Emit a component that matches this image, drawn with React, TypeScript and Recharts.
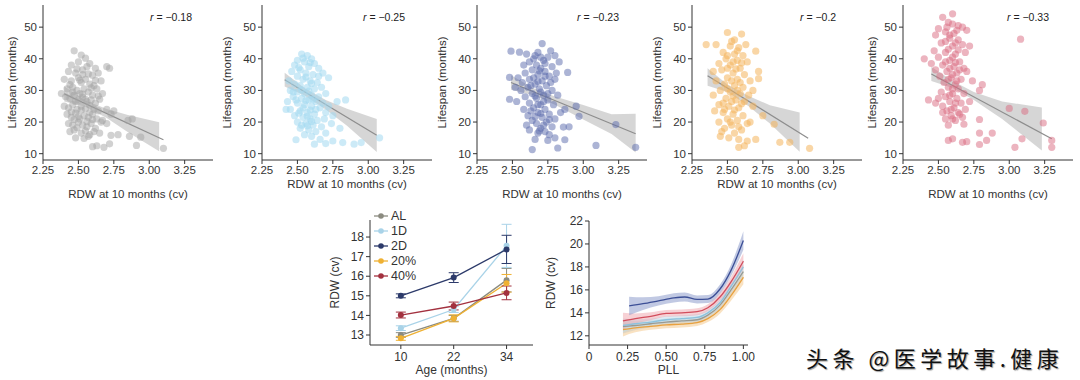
import React from "react";
import {
  ComposedChart,
  LineChart,
  Scatter,
  Line,
  Area,
  XAxis,
  YAxis,
  ErrorBar,
} from "recharts";

const FONT = "'Liberation Sans', Arial, Helvetica, sans-serif";
const INK = "#333";

// ---- top row: RDW at 10 months vs lifespan ----
const rdwTicks = [2.25, 2.5, 2.75, 3.0, 3.25];
const lifeTicks = [10, 20, 30, 40, 50];

const ptsAL = [
  [2.47, 42.5], [2.52, 41.2], [2.55, 40.2], [2.5, 39.0], [2.45, 38.0], [2.58, 38.5], [2.62, 37.0], [2.7, 37.5], [2.72, 37.0],
  [2.43, 36.0], [2.48, 35.5], [2.53, 36.5], [2.57, 35.2], [2.6, 34.8], [2.64, 35.5], [2.66, 33.0],
  [2.4, 33.5], [2.45, 33.0], [2.5, 34.0], [2.52, 32.5], [2.55, 33.5], [2.58, 32.0], [2.61, 31.5], [2.63, 30.5],
  [2.38, 29.0], [2.42, 30.5], [2.46, 31.0], [2.49, 30.0], [2.51, 29.0], [2.54, 30.5], [2.57, 29.5], [2.6, 28.5], [2.67, 29.0],
  [2.41, 28.0], [2.44, 27.5], [2.47, 28.5], [2.5, 27.0], [2.53, 27.8], [2.56, 26.5], [2.59, 27.0], [2.62, 26.0], [2.65, 27.2],
  [2.4, 25.0], [2.43, 24.5], [2.46, 25.5], [2.49, 24.0], [2.52, 25.0], [2.55, 24.2], [2.58, 25.3], [2.61, 24.0], [2.64, 23.5], [2.7, 24.0], [2.75, 23.5], [2.73, 22.5],
  [2.42, 22.5], [2.45, 21.5], [2.48, 22.8], [2.51, 21.0], [2.54, 22.0], [2.57, 21.5], [2.6, 22.5], [2.63, 21.0], [2.67, 20.5],
  [2.43, 19.5], [2.46, 19.0], [2.5, 20.0], [2.53, 19.0], [2.56, 18.5], [2.59, 19.5], [2.62, 18.0],
  [2.44, 17.0], [2.47, 17.5], [2.52, 16.5], [2.55, 17.2], [2.58, 16.0], [2.61, 17.0], [2.65, 16.5],
  [2.48, 15.0], [2.54, 14.8], [2.57, 15.5],
  [2.6, 12.2], [2.63, 12.5], [2.68, 12.0], [2.72, 13.1], [2.73, 15.8], [2.78, 16.0], [2.85, 20.5], [2.88, 21.0],
  [2.86, 15.5], [2.91, 12.6], [2.94, 15.2], [3.1, 11.7], [2.66, 20.0], [2.7, 19.5],
  [2.49, 36.8], [2.56, 37.5], [2.51, 33.2], [2.46, 29.5], [2.53, 28.8], [2.48, 26.5], [2.55, 27.2], [2.45, 23.2], [2.52, 23.8],
  [2.58, 23.0], [2.5, 21.8], [2.56, 20.2], [2.49, 18.2], [2.6, 20.8], [2.53, 35.0], [2.59, 30.8], [2.44, 31.8], [2.62, 33.2],
  [2.47, 20.8], [2.64, 28.2],
];

const pts1D = [
  [2.53, 41.5], [2.57, 41.0], [2.6, 40.0], [2.5, 39.5], [2.55, 39.0], [2.62, 38.5], [2.48, 38.0], [2.58, 37.5], [2.65, 37.0],
  [2.52, 36.5], [2.46, 36.0], [2.56, 35.5], [2.61, 35.0], [2.68, 35.5], [2.72, 34.0], [2.5, 34.5], [2.54, 33.5], [2.59, 33.0],
  [2.64, 32.5], [2.44, 33.0], [2.48, 32.0], [2.52, 31.5], [2.57, 31.0], [2.62, 30.5], [2.67, 31.0], [2.45, 30.0], [2.5, 29.5],
  [2.55, 29.0], [2.6, 28.5], [2.65, 28.0], [2.7, 29.0], [2.47, 28.0], [2.53, 27.5], [2.58, 27.0], [2.63, 26.5], [2.68, 26.0],
  [2.43, 26.5], [2.5, 26.0], [2.55, 25.5], [2.6, 25.0], [2.66, 24.5], [2.72, 25.0], [2.78, 26.5], [2.84, 27.0], [2.45, 24.0],
  [2.52, 23.5], [2.57, 23.0], [2.62, 22.5], [2.7, 23.0], [2.75, 22.0], [2.48, 22.0], [2.54, 21.5], [2.59, 21.0], [2.64, 20.5],
  [2.69, 21.0], [2.5, 20.0], [2.56, 19.5], [2.61, 19.0], [2.67, 18.5], [2.52, 18.0], [2.58, 17.5], [2.63, 17.0], [2.7, 16.5],
  [2.55, 16.0], [2.6, 15.5], [2.49, 14.4], [2.66, 14.5], [2.62, 13.0], [2.7, 13.2], [2.75, 14.0], [2.82, 13.5], [2.9, 13.0],
  [2.95, 13.5], [3.08, 15.0], [2.8, 18.0], [2.74, 19.5], [2.42, 24.0],
  [2.54, 40.2], [2.59, 38.8], [2.51, 37.2], [2.56, 34.2], [2.6, 32.2], [2.53, 30.2], [2.58, 29.8], [2.49, 27.0], [2.56, 26.8],
  [2.61, 27.2], [2.54, 24.5], [2.59, 23.8], [2.51, 22.8], [2.57, 21.8], [2.53, 19.0], [2.6, 20.2], [2.57, 18.8], [2.63, 24.0],
  [2.47, 29.5], [2.65, 34.5],
];

const pts2D = [
  [2.71, 44.8], [2.49, 42.4], [2.55, 42.1], [2.6, 41.5], [2.68, 42.0], [2.77, 42.5], [2.8, 41.0], [2.65, 40.0], [2.72, 39.5],
  [2.75, 40.5], [2.62, 39.0], [2.83, 39.0], [2.89, 35.7], [2.58, 38.0], [2.67, 38.0], [2.7, 37.0], [2.78, 37.5], [2.64, 36.5],
  [2.73, 36.0], [2.81, 35.5], [2.59, 35.5], [2.68, 35.0], [2.76, 34.5], [2.54, 34.0], [2.48, 34.1], [2.62, 33.5], [2.71, 33.0],
  [2.8, 33.5], [2.57, 32.5], [2.66, 32.0], [2.74, 31.5], [2.52, 31.0], [2.61, 31.0], [2.69, 30.5], [2.78, 30.0], [2.56, 30.0],
  [2.64, 29.0], [2.72, 28.5], [2.82, 28.5], [2.59, 28.0], [2.67, 27.5], [2.48, 27.2], [2.75, 27.0], [2.53, 26.5], [2.62, 26.0],
  [2.7, 25.5], [2.79, 25.5], [2.65, 24.5], [2.73, 24.0], [2.58, 24.0], [2.87, 24.0], [2.68, 23.0], [2.76, 22.5], [2.61, 22.0],
  [2.71, 21.5], [2.8, 21.0], [2.64, 20.5], [2.74, 20.0], [2.67, 19.5], [2.78, 18.5], [2.7, 18.0], [2.73, 17.0], [2.62, 17.5],
  [2.76, 16.0], [2.68, 16.5], [2.66, 14.5], [2.75, 14.2], [2.8, 15.0], [2.87, 14.4], [2.64, 11.3], [2.82, 11.8], [2.86, 18.4],
  [2.9, 18.5], [2.95, 25.0], [2.97, 21.8], [3.09, 12.6], [3.23, 19.2], [3.37, 12.0], [2.84, 23.0], [2.6, 19.0],
  [2.66, 41.0], [2.7, 40.5], [2.73, 38.5], [2.69, 36.2], [2.65, 34.0], [2.73, 34.5], [2.68, 32.8], [2.77, 32.5], [2.63, 31.5],
  [2.7, 29.5], [2.66, 28.2], [2.75, 29.0], [2.72, 26.5], [2.68, 25.5], [2.63, 23.5], [2.7, 22.7], [2.66, 21.7], [2.72, 19.0],
  [2.76, 20.8], [2.69, 17.2],
];

const pts20 = [
  [2.5, 48.3], [2.6, 47.8], [2.55, 46.0], [2.35, 44.5], [2.42, 44.5], [2.52, 44.0], [2.58, 43.5], [2.63, 44.5], [2.7, 42.4],
  [2.47, 42.0], [2.55, 41.5], [2.61, 41.0], [2.49, 40.0], [2.57, 39.5], [2.64, 39.0], [2.44, 38.5], [2.52, 38.0], [2.59, 37.0],
  [2.72, 36.0], [2.46, 36.5], [2.54, 35.5], [2.62, 35.0], [2.5, 34.0], [2.57, 33.5], [2.66, 33.0], [2.72, 33.7], [2.42, 33.0],
  [2.48, 32.0], [2.55, 31.5], [2.61, 31.0], [2.45, 30.0], [2.52, 29.5], [2.59, 29.0], [2.65, 28.5], [2.4, 28.5], [2.49, 27.5],
  [2.56, 27.0], [2.62, 26.5], [2.44, 25.5], [2.51, 25.0], [2.58, 24.5], [2.68, 25.0], [2.41, 23.5], [2.47, 23.0], [2.54, 22.5],
  [2.61, 22.0], [2.5, 21.0], [2.57, 20.5], [2.44, 20.0], [2.64, 19.5], [2.53, 19.0], [2.48, 18.0], [2.6, 17.5], [2.55, 16.5],
  [2.45, 15.5], [2.51, 15.0], [2.58, 14.5], [2.64, 14.0], [2.7, 14.5], [2.58, 12.0], [2.62, 12.5], [2.66, 20.0], [2.83, 19.3],
  [2.87, 13.6], [2.94, 13.6], [3.08, 11.7], [2.4, 36.0], [2.68, 30.0], [2.75, 22.0],
  [2.53, 45.5], [2.57, 42.5], [2.5, 41.0], [2.54, 39.0], [2.6, 38.7], [2.5, 37.0], [2.56, 36.8], [2.53, 33.0], [2.59, 32.5],
  [2.5, 30.5], [2.57, 30.0], [2.54, 28.2], [2.47, 26.0], [2.53, 26.5], [2.6, 25.8], [2.48, 24.0], [2.55, 23.8], [2.52, 20.0],
  [2.58, 18.5], [2.46, 17.0],
];

const pts40 = [
  [2.6, 54.2], [2.53, 53.1], [2.57, 51.5], [2.64, 50.5], [2.67, 50.0], [2.5, 49.5], [2.55, 48.5], [2.61, 48.0], [2.7, 49.0],
  [2.48, 47.5], [2.58, 46.5], [2.64, 46.0], [2.52, 45.0], [2.6, 44.0], [2.67, 44.5], [2.72, 44.0], [2.47, 42.5], [2.55, 42.0],
  [2.62, 41.5], [2.69, 42.0], [2.4, 40.0], [2.5, 40.5], [2.58, 39.5], [2.65, 39.0], [2.45, 38.5], [2.53, 38.0], [2.61, 37.5],
  [2.68, 37.0], [2.48, 36.5], [2.56, 36.0], [2.63, 35.5], [2.7, 36.0], [2.51, 34.5], [2.59, 34.0], [2.66, 33.5], [2.74, 33.0],
  [2.54, 32.5], [2.62, 32.0], [2.81, 31.8], [2.57, 31.0], [2.64, 30.5], [2.79, 30.0], [2.52, 29.5], [2.6, 29.0], [2.68, 29.0],
  [2.55, 28.0], [2.63, 27.5], [2.43, 27.0], [2.48, 26.0], [2.58, 26.5], [2.66, 26.0], [2.72, 26.5], [2.53, 25.0], [2.61, 24.5],
  [2.69, 24.0], [2.56, 23.5], [2.64, 23.0], [2.59, 22.0], [2.67, 21.5], [2.55, 21.0], [2.62, 20.5], [2.79, 20.8], [2.57, 19.0],
  [2.68, 19.3], [2.6, 14.7], [2.57, 14.2], [2.67, 13.6], [2.7, 13.8], [2.79, 16.5], [2.79, 12.9], [2.84, 14.2], [2.88, 16.5],
  [3.0, 24.3], [3.11, 23.4], [3.08, 46.2], [3.24, 19.7], [3.3, 14.2], [3.3, 12.0], [3.04, 12.0], [3.09, 14.7],
  [2.6, 51.0], [2.56, 50.0], [2.63, 49.0], [2.58, 47.5], [2.55, 45.5], [2.62, 45.0], [2.57, 43.0], [2.64, 42.8], [2.6, 40.5],
  [2.55, 39.0], [2.62, 38.8], [2.58, 37.0], [2.65, 36.5], [2.6, 35.0], [2.57, 33.5], [2.63, 33.0], [2.6, 30.5], [2.58, 28.5],
  [2.62, 26.0], [2.59, 24.0], [2.65, 22.5], [2.6, 21.0], [2.53, 23.0], [2.5, 27.5],
];

// regression fit lines (x, y) and 95% bands (x, low, high)
const fitAL = [[2.4, 28.9], [3.1, 14.4]];
const bandAL = [[2.4, 26.5, 31.3], [2.55, 24.8, 26.8], [2.7, 21.3, 24.1], [2.85, 16.8, 22.2], [3.07, 10.8, 19.9]];
const fit1D = [[2.41, 33.4], [3.06, 15.8]];
const band1D = [[2.41, 31.2, 35.6], [2.55, 28.4, 30.8], [2.7, 24.0, 27.0], [2.85, 18.8, 24.2], [3.06, 10.5, 21.0]];
const fit2D = [[2.49, 32.5], [3.37, 16.3]];
const band2D = [[2.49, 30.2, 34.8], [2.65, 28.5, 30.7], [2.8, 25.5, 28.1], [3.0, 20.8, 25.4], [3.2, 16.2, 22.5], [3.37, 10.4, 22.6]];
const fit20 = [[2.36, 34.6], [3.07, 14.9]];
const band20 = [[2.36, 31.5, 37.0], [2.5, 29.5, 31.9], [2.65, 25.0, 28.2], [2.8, 19.5, 25.3], [3.01, 10.6, 23.0]];
const fit40 = [[2.45, 35.2], [3.3, 14.7]];
const band40 = [[2.45, 33.0, 37.5], [2.6, 30.8, 33.0], [2.75, 27.0, 29.5], [2.95, 21.0, 26.5], [3.23, 11.0, 24.6]];

// ---- bottom left: RDW by age ----
const ages = [10, 22, 34];
const rdwAL = [13.0, 13.85, 15.8];
const errAL = [0.12, 0.15, 0.6];
const rdw1D = [13.35, 14.3, 17.55];
const err1D = [0.12, 0.15, 1.1];
const rdw2D = [15.0, 15.93, 17.37];
const err2D = [0.1, 0.25, 0.72];
const rdw20 = [12.83, 13.85, 15.64];
const err20 = [0.1, 0.18, 0.45];
const rdw40 = [14.02, 14.48, 15.15];
const err40 = [0.15, 0.2, 0.35];

// ---- bottom right: RDW vs PLL ----
const pllX = [0.22, 0.3, 0.4, 0.5, 0.6, 0.7, 0.77, 0.85, 0.92, 1.0];
const pllX2D = [0.26, 0.35, 0.45, 0.55, 0.62, 0.7, 0.77, 0.85, 0.92, 1.0];
const pll2D = [14.6, 14.8, 15.05, 15.3, 15.38, 15.17, 15.2, 16.1, 17.7, 20.3];
const pll2DSe = [0.8, 0.55, 0.4, 0.4, 0.4, 0.35, 0.35, 0.4, 0.5, 0.8];
const pll40 = [13.3, 13.5, 13.7, 13.95, 14.0, 14.1, 14.45, 15.4, 16.7, 18.5];
const pll40Se = [0.7, 0.45, 0.35, 0.3, 0.3, 0.3, 0.3, 0.35, 0.45, 0.7];
const pll1D = [12.9, 13.05, 13.2, 13.4, 13.5, 13.6, 14.0, 14.9, 16.3, 18.0];
const pll1DSe = [0.6, 0.4, 0.3, 0.3, 0.3, 0.3, 0.3, 0.35, 0.45, 0.6];
const pllAL = [12.8, 12.9, 13.05, 13.2, 13.3, 13.4, 13.8, 14.7, 16.0, 17.6];
const pllALSe = [0.6, 0.4, 0.3, 0.3, 0.3, 0.3, 0.3, 0.35, 0.45, 0.6];
const pll20 = [12.55, 12.7, 12.82, 12.95, 13.02, 13.15, 13.5, 14.3, 15.5, 17.1];
const pll20Se = [0.6, 0.4, 0.3, 0.3, 0.3, 0.3, 0.3, 0.35, 0.45, 0.6];

const toPts = (a: number[][]) => a.map(([x, y]) => ({ x, y }));
const toBand = (a: number[][]) => a.map(([x, lo, hi]) => ({ x, band: [lo, hi] }));
const toCurve = (xs: number[], ys: number[], se: number[]) =>
  xs.map((x, i) => ({ x, y: ys[i], band: [ys[i] - se[i], ys[i] + se[i]] }));

const tickStyle = { fontSize: 11.5, fill: INK, fontFamily: FONT };
const axisLine = { stroke: INK, strokeWidth: 1 };

type PanelProps = {
  left: number;
  pts: number[][];
  fit: number[][];
  band: number[][];
  color: string;
  opacity: number;
  r: string;
  rLeft: number;
  xLabelOffset: number;
  yLabelX: number;
};

function ScatterPanel(p: PanelProps) {
  return (
    <div style={{ position: "absolute", left: p.left, top: 0, width: 220, height: 205 }}>
      <ComposedChart width={220} height={205} margin={{ top: 5, right: 7, bottom: 5, left: 0 }}>
        <XAxis
          type="number"
          dataKey="x"
          domain={[2.25, 3.45]}
          ticks={rdwTicks}
          interval={0}
          tickFormatter={(v: number) => v.toFixed(2)}
          height={40}
          tick={tickStyle}
          axisLine={axisLine}
          tickLine={axisLine}
          tickSize={4}
          label={{ value: "RDW at 10 months (cv)", position: "insideBottom", offset: p.xLabelOffset, fill: INK, fontSize: 11.5, fontFamily: FONT }}
        />
        <YAxis
          type="number"
          dataKey="y"
          domain={[8, 57]}
          ticks={lifeTicks}
          interval={0}
          width={43}
          tick={tickStyle}
          axisLine={axisLine}
          tickLine={axisLine}
          tickSize={4}
          label={{ value: "Lifespan (months)", angle: -90, position: "insideLeft", offset: p.yLabelX, fill: INK, fontSize: 11.5, fontFamily: FONT, style: { textAnchor: "middle" } }}
        />
        <Scatter
          data={toPts(p.pts)}
          dataKey="y"
          isAnimationActive={false}
          shape={(s: any) => <circle cx={s.cx} cy={s.cy} r={3.6} fill={p.color} fillOpacity={p.opacity} />}
        />
        <Area data={toBand(p.band)} dataKey="band" type="linear" stroke="none" fill="#b5b5b5" fillOpacity={0.55} isAnimationActive={false} />
        <Line data={toPts(p.fit)} dataKey="y" type="linear" stroke="#8d8d8d" strokeWidth={1.2} dot={false} isAnimationActive={false} />
      </ComposedChart>
      <div style={{ position: "absolute", left: p.rLeft, top: 11, fontSize: 10.5, fontFamily: FONT, color: "#222", whiteSpace: "nowrap" }}>
        <i>r</i> = −{p.r}
      </div>
    </div>
  );
}

const ageColors = { AL: "#8b8b80", "1D": "#a9d3e8", "2D": "#2c3a6a", "20%": "#efb133", "40%": "#a3313f" };
const ageSeries = [
  { name: "AL", key: "AL", vals: rdwAL, err: errAL },
  { name: "1D", key: "D1", vals: rdw1D, err: err1D },
  { name: "20%", key: "P20", vals: rdw20, err: err20 },
  { name: "40%", key: "P40", vals: rdw40, err: err40 },
  { name: "2D", key: "D2", vals: rdw2D, err: err2D },
];
const ageRows = ages.map((age, i) => {
  const row: any = { age };
  ageSeries.forEach((s) => {
    row[s.key] = s.vals[i];
    row[s.key + "e"] = s.err[i];
  });
  return row;
});
const legendOrder = ["AL", "1D", "2D", "20%", "40%"];

const pllSeries = [
  { xs: pllX, ys: pll20, se: pll20Se, line: "#e9a13e", fill: "#f4c585" },
  { xs: pllX, ys: pllAL, se: pllALSe, line: "#9a9a92", fill: "#c9c9c2" },
  { xs: pllX, ys: pll1D, se: pll1DSe, line: "#8cc2de", fill: "#bcdcee" },
  { xs: pllX, ys: pll40, se: pll40Se, line: "#d24d5c", fill: "#efa3ab" },
  { xs: pllX2D, ys: pll2D, se: pll2DSe, line: "#3c4f96", fill: "#8494c8" },
];

const tick12 = { fontSize: 12, fill: INK, fontFamily: FONT };

export default function App() {
  return (
    <div style={{ position: "absolute", left: 0, top: 0, width: 1080, height: 380, background: "#fff", overflow: "hidden", fontFamily: FONT }}>
      <ScatterPanel left={0} pts={ptsAL} fit={fitAL} band={bandAL} color="#a3a3a3" opacity={0.5} r="0.18" rLeft={150} xLabelOffset={2} yLabelX={12} />
      <ScatterPanel left={219} pts={pts1D} fit={fit1D} band={band1D} color="#a3d8f0" opacity={0.55} r="0.25" rLeft={144} xLabelOffset={12} yLabelX={8} />
      <ScatterPanel left={434} pts={pts2D} fit={fit2D} band={band2D} color="#5a6aac" opacity={0.5} r="0.23" rLeft={143} xLabelOffset={2} yLabelX={8} />
      <ScatterPanel left={649} pts={pts20} fit={fit20} band={band20} color="#f4b45c" opacity={0.55} r="0.2" rLeft={151} xLabelOffset={12} yLabelX={8} />
      <ScatterPanel left={860} pts={pts40} fit={fit40} band={band40} color="#d96a7f" opacity={0.5} r="0.33" rLeft={147} xLabelOffset={2} yLabelX={12} />

      {/* RDW by age */}
      <div style={{ position: "absolute", left: 320, top: 200, width: 218, height: 180 }}>
        <LineChart width={218} height={180} data={ageRows} margin={{ top: 20, right: 5, bottom: 5, left: 0 }}>
          <XAxis
            type="number"
            dataKey="age"
            domain={[3, 40]}
            ticks={ages}
            interval={0}
            height={30}
            tick={tick12}
            tickMargin={3}
            axisLine={axisLine}
            tickLine={axisLine}
            tickSize={4}
            label={{ value: "Age (months)", position: "insideBottom", offset: 1, fill: INK, fontSize: 12, fontFamily: FONT }}
          />
          <YAxis
            type="number"
            domain={[12.49, 18.87]}
            ticks={[13, 14, 15, 16, 17, 18]}
            interval={0}
            width={50}
            tick={tick12}
            axisLine={axisLine}
            tickLine={axisLine}
            tickSize={4}
            label={{ value: "RDW (cv)", angle: -90, position: "insideLeft", offset: 15, fill: INK, fontSize: 12, fontFamily: FONT, style: { textAnchor: "middle" } }}
          />
          {ageSeries.map((s) => {
            const c = (ageColors as any)[s.name];
            return (
              <Line
                key={s.key}
                dataKey={s.key}
                type="linear"
                stroke={c}
                strokeWidth={1.3}
                dot={{ r: 3, fill: c, stroke: c, strokeWidth: 0 }}
                isAnimationActive={false}
              >
                <ErrorBar dataKey={s.key + "e"} direction="y" width={5} stroke={c} strokeWidth={1} />
              </Line>
            );
          })}
        </LineChart>
        {legendOrder.map((n, i) => {
          const c = (ageColors as any)[n];
          return (
            <div key={n} style={{ position: "absolute", left: 54, top: 8 + i * 15, height: 15, display: "flex", alignItems: "center", fontSize: 12.5, color: INK }}>
              <svg width={14} height={8} style={{ marginRight: 3 }}>
                <line x1={0} y1={4} x2={14} y2={4} stroke={c} strokeWidth={1.3} />
                <circle cx={7} cy={4} r={2.8} fill={c} />
              </svg>
              {n}
            </div>
          );
        })}
      </div>

      {/* RDW vs PLL */}
      <div style={{ position: "absolute", left: 539, top: 200, width: 216, height: 180 }}>
        <ComposedChart width={216} height={180} margin={{ top: 21, right: 7, bottom: 5, left: 0 }}>
          <XAxis
            type="number"
            dataKey="x"
            domain={[0, 1.03]}
            ticks={[0, 0.25, 0.5, 0.75, 1]}
            interval={0}
            tickFormatter={(v: number) => (v === 0 ? "0" : v.toFixed(2))}
            height={30}
            tick={tick12}
            tickMargin={3}
            axisLine={axisLine}
            tickLine={axisLine}
            tickSize={4}
            label={{ value: "PLL", position: "insideBottom", offset: 1, fill: INK, fontSize: 12, fontFamily: FONT }}
          />
          <YAxis
            type="number"
            domain={[11.2, 22]}
            ticks={[12, 14, 16, 18, 20, 22]}
            interval={0}
            width={50}
            tick={tick12}
            axisLine={axisLine}
            tickLine={axisLine}
            tickSize={4}
            label={{ value: "RDW (cv)", angle: -90, position: "insideLeft", offset: 12, fill: INK, fontSize: 12, fontFamily: FONT, style: { textAnchor: "middle" } }}
          />
          {pllSeries.map((s, i) => (
            <Area
              key={"a" + i}
              data={toCurve(s.xs, s.ys, s.se)}
              dataKey="band"
              type="monotone"
              stroke="none"
              fill={s.fill}
              fillOpacity={0.5}
              isAnimationActive={false}
            />
          ))}
          {pllSeries.map((s, i) => (
            <Line
              key={"l" + i}
              data={toCurve(s.xs, s.ys, s.se)}
              dataKey="y"
              type="monotone"
              stroke={s.line}
              strokeWidth={1.3}
              dot={false}
              isAnimationActive={false}
            />
          ))}
        </ComposedChart>
      </div>

      <div
        style={{
          position: "absolute",
          left: 806,
          top: 341,
          fontSize: 22,
          letterSpacing: 4.5,
          fontFamily: "'Noto Sans CJK SC', sans-serif",
          color: "#111",
          textShadow: "1px 1px 1px #999",
          whiteSpace: "nowrap",
        }}
      >
        头条 @医学故事.健康
      </div>
    </div>
  );
}
